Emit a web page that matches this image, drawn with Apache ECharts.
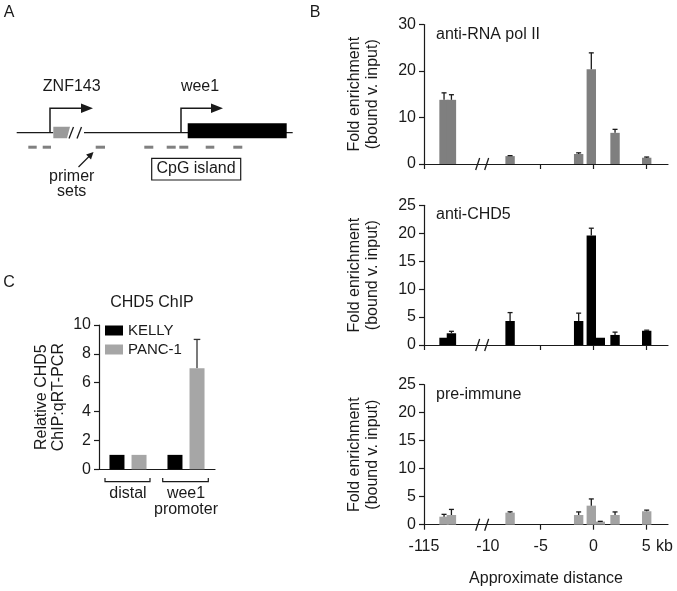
<!DOCTYPE html>
<html>
<head>
<meta charset="utf-8">
<script src="https://cdn.jsdelivr.net/npm/echarts@6/dist/echarts.min.js"></script>
<style>
html, body { margin: 0; padding: 0; background: #fff; }
#main { width: 677px; height: 591px; }
</style>
</head>
<body>
<div id="main"></div>
<script>
// primer sets, kb from the wee1 start (the two first ones sit at ZNF143)
const primerKb = [-113.1, -112.4, -7.9, -1.4, -0.2, 0.65, 2.05, 5.05];

// panel B, fold enrichment (bound v. input) and error
const polII = [13.8, 13.8, 1.7, 2.15, 20.35, null, 6.7, 1.35];
const polIIErr = [1.5, 1.1, 0.1, 0.25, 3.55, null, 0.75, 0.15];
const chd5 = [1.3, 2.1, 4.3, 4.3, 19.6, 1.3, 1.8, 2.55];
const chd5Err = [0, 0.35, 1.5, 1.4, 1.3, 0, 0.5, 0.1];
const preImmune = [1.43, 1.73, 2.15, 1.73, 3.4, 0.55, 1.73, 2.4];
const preImmuneErr = [0.42, 1.0, 0.15, 0.55, 1.2, 0.05, 0.55, 0.2];

const xTickKb = [-115, -5, 0, 5];
const xLabelKb = [-115, -10, -5, 0, 5];

// panel C
const regions = ['distal', 'wee1\npromoter'];
const kelly = [1, 1];
const panc = [1, 7];
const pancErr = [0, 2];

const FONT = '"Liberation Sans", Arial, sans-serif';
const ink = '#1a1a1a';

// broken axis: the far ZNF143 region is pulled in next to -10 kb
function toAxis(kb) { return kb < -50 ? kb + 98.94 : kb; }
const X_MIN = toAxis(-115), X_MAX = 7.07;
const BREAK_AT = -10.5;

let chart = echarts.init(document.getElementById('main'));

function barSeries(g, vals, errs, color) {
  return {
    type: 'custom',
    xAxisIndex: g, yAxisIndex: g,
    clip: false,
    data: primerKb.map((k, i) => [toAxis(k), vals[i], errs[i]]).filter(d => d[1] != null),
    renderItem: function (params, api) {
      const x = api.value(0), y = api.value(1), e = api.value(2);
      const base = api.coord([x, 0]);
      const top = api.coord([x, y]);
      const w = 9.4;
      const kids = [{
        type: 'rect',
        shape: { x: base[0] - w / 2, y: top[1], width: w, height: base[1] - top[1] },
        style: { fill: color }
      }];
      if (e > 0) {
        const et = api.coord([x, y + e]);
        kids.push({ type: 'line', shape: { x1: top[0], y1: top[1], x2: et[0], y2: et[1] }, style: { stroke: ink, lineWidth: 1.3 } });
        kids.push({ type: 'line', shape: { x1: et[0] - 2.5, y1: et[1], x2: et[0] + 2.5, y2: et[1] }, style: { stroke: ink, lineWidth: 1.3 } });
      }
      return { type: 'group', children: kids };
    }
  };
}

function breakSeries(g) {
  return {
    type: 'custom',
    xAxisIndex: g, yAxisIndex: g,
    clip: false,
    data: [[BREAK_AT, 0]],
    renderItem: function (params, api) {
      const p = api.coord([api.value(0), 0]);
      return {
        type: 'group',
        children: [
          { type: 'line', shape: { x1: p[0] - 7, y1: p[1] + 6, x2: p[0] - 3, y2: p[1] - 6 }, style: { stroke: ink, lineWidth: 1.3 } },
          { type: 'line', shape: { x1: p[0] + 2, y1: p[1] + 6, x2: p[0] + 6, y2: p[1] - 6 }, style: { stroke: ink, lineWidth: 1.3 } }
        ]
      };
    }
  };
}

function kbLabel(v) {
  for (const k of xLabelKb) {
    if (Math.abs(toAxis(k) - v) < 0.01) return String(k);
  }
  return '';
}

function bX(g) {
  return {
    type: 'value', gridIndex: g, min: X_MIN, max: X_MAX,
    splitLine: { show: false },
    axisLine: { lineStyle: { color: ink, width: 1.2 } },
    axisTick: { show: true, customValues: xTickKb.map(toAxis), length: 5, lineStyle: { color: ink, width: 1.2 } },
    axisLabel: {
      show: g === 2, customValues: xLabelKb.map(toAxis), formatter: kbLabel,
      margin: 14, fontSize: 16, color: ink, fontFamily: FONT
    },
    name: g === 2 ? 'Approximate distance' : '',
    nameLocation: 'middle', nameGap: 46,
    nameTextStyle: { fontSize: 16, color: ink, fontFamily: FONT }
  };
}

function bY(g, max, step) {
  return {
    type: 'value', gridIndex: g, min: 0, max: max, interval: step,
    splitLine: { show: false },
    axisLine: { show: true, onZero: false, lineStyle: { color: ink, width: 1.2 } },
    axisTick: { show: true, length: 5, lineStyle: { color: ink, width: 1.2 } },
    axisLabel: { margin: 8, fontSize: 16, color: ink, fontFamily: FONT },
    name: 'Fold enrichment\n(bound v. input)',
    nameLocation: 'middle', nameGap: 42,
    nameTextStyle: { fontSize: 16, lineHeight: 18, color: ink, fontFamily: FONT }
  };
}

function txt(s, x, y, align, size) {
  return {
    type: 'text', x: x, y: y,
    style: { text: s, fill: ink, font: (size || 16) + 'px ' + FONT, textAlign: align || 'center', textVerticalAlign: 'middle' }
  };
}

function line(pts, w) {
  return { type: 'polyline', shape: { points: pts }, style: { stroke: ink, lineWidth: w || 1.3, fill: null } };
}

// panel A schematic
const dashes = [[28.3, 36.7], [42.7, 51], [95.7, 105], [144.3, 153.3], [166.7, 175.7], [179.3, 188.3], [205.7, 214.3], [233.3, 242.3]];
const schematic = [
  line([[16.7, 132.7], [53.3, 132.7]]),
  line([[84, 132.7], [292.7, 132.7]]),
  { type: 'polygon', shape: { points: [[53.3, 126.7], [70, 126.7], [67, 138.3], [53.3, 138.3]] }, style: { fill: '#9a9a9a' } },
  line([[69, 138.5], [73.5, 127]]),
  line([[77, 138.5], [81.5, 127]]),
  line([[50, 132.7], [50, 108.3], [82, 108.3]], 1.5),
  { type: 'polygon', shape: { points: [[81, 103.5], [93, 108.3], [81, 113]] }, style: { fill: ink } },
  line([[181, 132.7], [181, 108.3], [212, 108.3]], 1.5),
  { type: 'polygon', shape: { points: [[211, 103.5], [223, 108.3], [211, 113]] }, style: { fill: ink } },
  { type: 'rect', shape: { x: 187.7, y: 123.3, width: 99, height: 15 }, style: { fill: '#000' } },
  line([[78.5, 167], [90, 155.5]], 1.3),
  { type: 'polygon', shape: { points: [[93.5, 152], [91, 159.4], [86.1, 154.5]] }, style: { fill: ink } },
  { type: 'rect', shape: { x: 151.7, y: 158.3, width: 89, height: 21.7 }, style: { fill: null, stroke: ink, lineWidth: 1.2 } },
  txt('ZNF143', 71.7, 86.7),
  txt('wee1', 200, 86.7),
  txt('primer', 71.7, 176.7),
  txt('sets', 71.7, 191.7),
  txt('CpG island', 196, 169)
].concat(dashes.map(d => ({
  type: 'rect', shape: { x: d[0], y: 145.7, width: d[1] - d[0], height: 3 }, style: { fill: '#808080' }
})));

// panel C brackets under the categories
const brackets = [
  line([[105, 478], [105, 481.7], [150, 481.7], [150, 478]], 1.2),
  line([[162.7, 478], [162.7, 481.7], [208.3, 481.7], [208.3, 478]], 1.2)
];

chart.setOption({
  animation: false,
  backgroundColor: '#fff',
  textStyle: { fontFamily: FONT },
  grid: [
    { left: 424, right: 9, top: 24.5, height: 139.5 },
    { left: 424, right: 9, top: 205.3, height: 139.7 },
    { left: 424, right: 9, top: 384.7, height: 140 },
    { left: 99, width: 116, top: 325, height: 144.3 }
  ],
  legend: {
    data: ['KELLY', 'PANC-1'],
    orient: 'vertical', left: 105, top: 323, padding: 0,
    itemWidth: 18, itemHeight: 10, itemGap: 4, icon: 'rect',
    textStyle: { fontSize: 15, color: ink, fontFamily: FONT }
  },
  xAxis: [
    bX(0), bX(1), bX(2),
    {
      type: 'category', gridIndex: 3, data: regions,
      axisLine: { lineStyle: { color: ink, width: 1.2 } },
      axisTick: { show: false },
      axisLabel: { interval: 0, margin: 16, fontSize: 16, lineHeight: 16, color: ink, fontFamily: FONT }
    }
  ],
  yAxis: [
    bY(0, 30, 10), bY(1, 25, 5), bY(2, 25, 5),
    {
      type: 'value', gridIndex: 3, min: 0, max: 10, interval: 2,
      splitLine: { show: false },
      axisLine: { show: true, lineStyle: { color: ink, width: 1.2 } },
      axisTick: { show: true, length: 5, lineStyle: { color: ink, width: 1.2 } },
      axisLabel: { margin: 8, fontSize: 16, color: ink, fontFamily: FONT },
      name: 'Relative CHD5\nChIP:qRT-PCR',
      nameLocation: 'middle', nameGap: 32,
      nameTextStyle: { fontSize: 16, lineHeight: 17, color: ink, fontFamily: FONT }
    }
  ],
  series: [
    barSeries(0, polII, polIIErr, '#7f7f7f'),
    barSeries(1, chd5, chd5Err, '#000'),
    barSeries(2, preImmune, preImmuneErr, '#a3a3a3'),
    breakSeries(0), breakSeries(1), breakSeries(2),
    { name: 'KELLY', type: 'bar', xAxisIndex: 3, yAxisIndex: 3, data: kelly, barWidth: 15, barGap: '47%', itemStyle: { color: '#000' } },
    { name: 'PANC-1', type: 'bar', xAxisIndex: 3, yAxisIndex: 3, data: panc, barWidth: 15, barGap: '47%', itemStyle: { color: '#a6a6a6' } },
    {
      type: 'custom', xAxisIndex: 3, yAxisIndex: 3, clip: false,
      data: regions.map((r, i) => [i, panc[i], pancErr[i]]),
      renderItem: function (params, api) {
        const e = api.value(2);
        if (!(e > 0)) return null;
        const top = api.coord([api.value(0), api.value(1)]);
        const et = api.coord([api.value(0), api.value(1) + e]);
        const x = top[0] + 11;
        return {
          type: 'group',
          children: [
            { type: 'line', shape: { x1: x, y1: top[1], x2: x, y2: et[1] }, style: { stroke: '#333', lineWidth: 1.3 } },
            { type: 'line', shape: { x1: x - 3.3, y1: et[1], x2: x + 3.3, y2: et[1] }, style: { stroke: '#333', lineWidth: 1.3 } }
          ]
        };
      }
    }
  ],
  graphic: [
    txt('A', 9, 13, 'center', 16),
    txt('B', 315, 13, 'center', 16),
    txt('C', 9, 283, 'center', 16),
    txt('anti-RNA pol II', 436, 35, 'left'),
    txt('anti-CHD5', 436, 215, 'left'),
    txt('pre-immune', 436, 395, 'left'),
    txt('kb', 656, 547, 'left'),
    txt('CHD5 ChIP', 152, 303)
  ].concat(schematic, brackets)
});

window.addEventListener('resize', function () {
  chart.resize();
});
</script>
</body>
</html>
